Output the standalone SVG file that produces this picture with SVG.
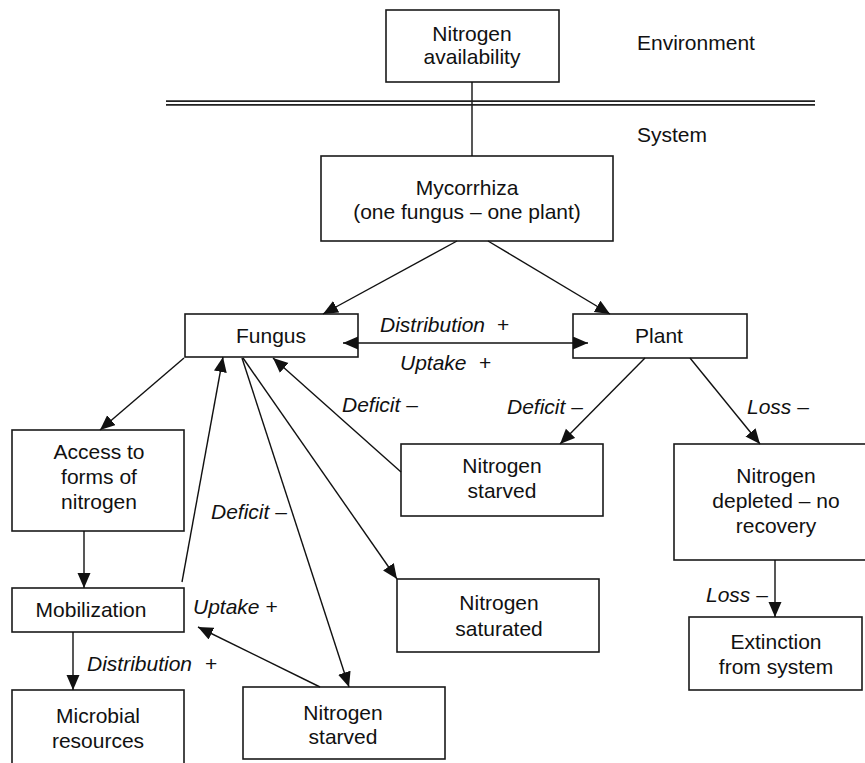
<svg xmlns="http://www.w3.org/2000/svg" width="865" height="763" viewBox="0 0 865 763">
<style>
  .box { fill: #ffffff; stroke: #1a1a1a; stroke-width: 1.6; }
  .t { font-family: "Liberation Sans", Arial, Helvetica, sans-serif; font-size: 21px; fill: #111111; text-anchor: middle; }
  .lab { font-family: "Liberation Sans", Arial, Helvetica, sans-serif; font-size: 21px; fill: #111111; }
  .it { font-style: italic; }
  .ln { stroke: #111111; stroke-width: 1.4; fill: none; }
  .arr { marker-end: url(#ah); }
</style>
<defs>
  <marker id="ah" markerUnits="userSpaceOnUse" markerWidth="16" markerHeight="14" refX="15" refY="6.5" orient="auto">
    <path d="M0,0 L15,6.5 L0,13 z" fill="#111111"/>
  </marker>
  <marker id="ahs" markerUnits="userSpaceOnUse" markerWidth="16" markerHeight="14" refX="15" refY="6.5" orient="auto-start-reverse">
    <path d="M0,0 L15,6.5 L0,13 z" fill="#111111"/>
  </marker>
</defs>
<rect width="865" height="763" fill="#ffffff"/>

<g id="n_availability">
  <rect class="box" x="386" y="10" width="173" height="72"/>
  <text class="t" x="472" y="41">Nitrogen</text>
  <text class="t" x="472" y="64">availability</text>
</g>
<g id="mycorrhiza">
  <rect class="box" x="321" y="156" width="292" height="85"/>
  <text class="t" x="467" y="195">Mycorrhiza</text>
  <text class="t" x="467" y="219">(one fungus – one plant)</text>
</g>
<g id="fungus">
  <rect class="box" x="185" y="314" width="173" height="43"/>
  <text class="t" x="271" y="343">Fungus</text>
</g>
<g id="plant">
  <rect class="box" x="573" y="314" width="174" height="44"/>
  <text class="t" x="659" y="343">Plant</text>
</g>
<g id="access">
  <rect class="box" x="12" y="430" width="172" height="101"/>
  <text class="t" x="99" y="459">Access to</text>
  <text class="t" x="99" y="484">forms of</text>
  <text class="t" x="99" y="509">nitrogen</text>
</g>
<g id="mobilization">
  <rect class="box" x="12" y="588" width="172" height="44"/>
  <text class="t" x="91" y="617">Mobilization</text>
</g>
<g id="microbial">
  <rect class="box" x="12" y="690" width="172" height="85"/>
  <text class="t" x="98" y="723">Microbial</text>
  <text class="t" x="98" y="748">resources</text>
</g>
<g id="starved_mid">
  <rect class="box" x="401" y="444" width="202" height="72"/>
  <text class="t" x="502" y="473">Nitrogen</text>
  <text class="t" x="502" y="498">starved</text>
</g>
<g id="depleted">
  <rect class="box" x="674" y="444" width="204" height="116"/>
  <text class="t" x="776" y="483">Nitrogen</text>
  <text class="t" x="776" y="508">depleted – no</text>
  <text class="t" x="776" y="533">recovery</text>
</g>
<g id="saturated">
  <rect class="box" x="397" y="579" width="202" height="73"/>
  <text class="t" x="499" y="610">Nitrogen</text>
  <text class="t" x="499" y="636">saturated</text>
</g>
<g id="extinction">
  <rect class="box" x="689" y="617" width="173" height="73"/>
  <text class="t" x="776" y="649">Extinction</text>
  <text class="t" x="776" y="674">from system</text>
</g>
<g id="starved_bot">
  <rect class="box" x="243" y="687" width="202" height="72"/>
  <text class="t" x="343" y="720">Nitrogen</text>
  <text class="t" x="343" y="744">starved</text>
</g>

<g id="connectors">
  <line class="ln" x1="472" y1="82" x2="472" y2="156"/>
  <line x1="166" y1="101.2" x2="815" y2="101.2" stroke="#222222" stroke-width="1.8"/>
  <line x1="166" y1="104.9" x2="815" y2="104.9" stroke="#222222" stroke-width="1.8"/>
  <line class="ln arr" x1="457" y1="241" x2="323" y2="314"/>
  <line class="ln arr" x1="488" y1="241" x2="610" y2="314"/>
  <line class="ln" x1="343" y1="343" x2="588" y2="343" marker-start="url(#ahs)" marker-end="url(#ahs)"/>
  <line class="ln arr" x1="184" y1="358" x2="100" y2="430"/>
  <line class="ln arr" x1="84" y1="531" x2="84" y2="588"/>
  <line class="ln arr" x1="73" y1="632" x2="73" y2="690"/>
  <line class="ln arr" x1="182" y1="582" x2="223" y2="357"/>
  <line class="ln arr" x1="242" y1="358" x2="349" y2="687"/>
  <line class="ln arr" x1="243" y1="358" x2="397" y2="579"/>
  <line class="ln arr" x1="401" y1="472" x2="273" y2="358"/>
  <line class="ln arr" x1="320" y1="687" x2="198" y2="627"/>
  <line class="ln arr" x1="645" y1="358" x2="560" y2="444"/>
  <line class="ln arr" x1="690" y1="358" x2="760" y2="444"/>
  <line class="ln arr" x1="775" y1="560" x2="775" y2="617"/>
</g>

<g id="labels">
  <text class="lab" x="637" y="50">Environment</text>
  <text class="lab" x="637" y="142">System</text>
  <text class="lab" x="380" y="332"><tspan class="it">Distribution</tspan><tspan x="497">+</tspan></text>
  <text class="lab" x="400" y="370"><tspan class="it">Uptake</tspan><tspan x="479">+</tspan></text>
  <text class="lab" x="342" y="412"><tspan class="it">Deficit</tspan> –</text>
  <text class="lab" x="507" y="414"><tspan class="it">Deficit</tspan> –</text>
  <text class="lab" x="747" y="414"><tspan class="it">Loss</tspan> –</text>
  <text class="lab" x="211" y="519"><tspan class="it">Deficit</tspan> –</text>
  <text class="lab" x="193" y="614"><tspan class="it">Uptake</tspan> +</text>
  <text class="lab" x="87" y="671"><tspan class="it">Distribution</tspan><tspan x="205">+</tspan></text>
  <text class="lab" x="706" y="602"><tspan class="it">Loss</tspan> –</text>
</g>
</svg>
